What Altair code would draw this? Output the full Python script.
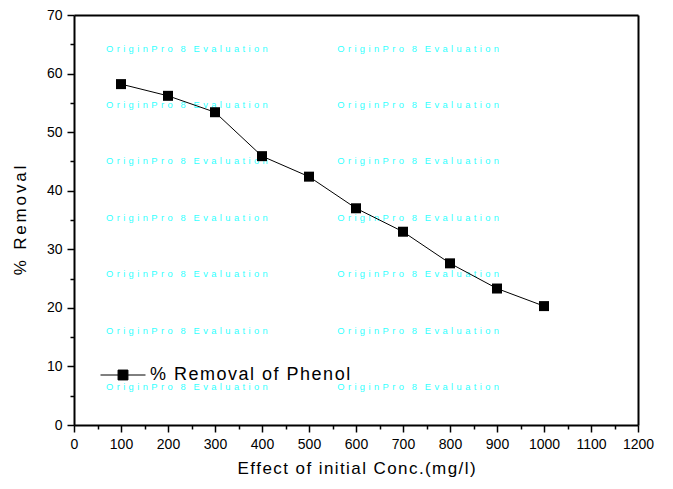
import altair as alt
import pandas as pd

conc = [100, 200, 300, 400, 500, 600, 700, 800, 900, 1000]
removal = [58.2, 56.2, 53.4, 45.9, 42.4, 37.0, 33.0, 27.6, 23.3, 20.3]
series_name = "% Removal of Phenol"

wm_words = ["OriginPro", "8", "Evaluation"]
wm_x = [68, 560]
wm_y = [64.2, 54.6, 45.0, 35.4, 25.7, 16.1, 6.5]

x_title = "Effect of initial Conc.(mg/l)"
y_title = "% Removal"

HS = "\u200a"   # hair space, used to mimic Origin's wide letter spacing
NB = "\u00a0"


def spaced(s, sep=HS):
    return sep.join(list(s))


wm_text = (NB * 3).join((NB + HS).join(list(w)) for w in wm_words)

df = pd.DataFrame({"conc": conc, "removal": removal,
                   "series": [spaced(series_name)] * len(conc)})
wm = pd.DataFrame([{"x": x, "y": y, "t": wm_text} for x in wm_x for y in wm_y])

xscale = alt.Scale(domain=[0, 1200], nice=False, zero=False)
yscale = alt.Scale(domain=[0, 70], nice=False, zero=False)

legend_path = "M-1,0H-0.22M0.22,0H1M-0.22,-0.22H0.22V0.22H-0.22Z"

color = alt.Color(
    "series:N",
    scale=alt.Scale(range=["black"]),
    legend=alt.Legend(
        title=None,
        orient="none",
        legendX=26,
        legendY=337,
        symbolType=legend_path,
        symbolSize=2025,
        symbolFillColor="black",
        symbolStrokeColor="black",
        symbolStrokeWidth=1,
        labelFontSize=18,
        labelFont="Liberation Sans",
        labelColor="black",
        labelOffset=4,
        labelLimit=400,
    ),
)

common = dict(
    titleFont="Liberation Sans",
    titleFontWeight="normal",
    titleColor="black",
    labelFontSize=14,
    labelFont="Liberation Sans",
    labelColor="black",
    tickSize=7,
    tickWidth=1.5,
    tickColor="black",
    domainColor="black",
    domainWidth=2,
    grid=False,
    labelFlush=False,
    format="d",
)
xaxis = alt.Axis(values=list(range(0, 1201, 100)), title=spaced(x_title), titleFontSize=17,
                 orient="bottom", titlePadding=9, labelPadding=5, **common)
yaxis = alt.Axis(values=list(range(0, 71, 10)), title=spaced(y_title, HS + HS), titleFontSize=17,
                 orient="left", titlePadding=17, labelPadding=5, **common)

minor_x = alt.Axis(values=list(range(50, 1200, 100)), labels=False, title=None, orient="bottom",
                   tickSize=4, tickWidth=1.5, tickColor="black", domain=False, grid=False)
minor_y = alt.Axis(values=list(range(5, 70, 10)), labels=False, title=None, orient="left",
                   tickSize=4, tickWidth=1.5, tickColor="black", domain=False, grid=False)
frame_x = alt.Axis(orient="top", labels=False, ticks=False, title=None, grid=False,
                   domainColor="black", domainWidth=2)
frame_y = alt.Axis(orient="right", labels=False, ticks=False, title=None, grid=False,
                   domainColor="black", domainWidth=2)

watermark = alt.Chart(wm).mark_text(
    align="left", baseline="middle", fontSize=9.4, font="Liberation Sans", color="#33FFFF"
).encode(
    x=alt.X("x:Q", scale=xscale, axis=minor_x),
    y=alt.Y("y:Q", scale=yscale, axis=minor_y),
    text="t:N",
)

frame = alt.Chart(df).mark_point(opacity=0).encode(
    x=alt.X("conc:Q", scale=xscale, axis=frame_x),
    y=alt.Y("removal:Q", scale=yscale, axis=frame_y),
)

base = alt.Chart(df)
line = base.mark_line(strokeWidth=1, color="#222222").encode(
    x=alt.X("conc:Q", scale=xscale, axis=xaxis),
    y=alt.Y("removal:Q", scale=yscale, axis=yaxis),
    color=color,
)
points = base.mark_point(shape="square", filled=True, size=100, opacity=1).encode(
    x=alt.X("conc:Q", scale=xscale, axis=xaxis),
    y=alt.Y("removal:Q", scale=yscale, axis=yaxis),
    color=color,
)

chart = (
    alt.layer(watermark, frame, line + points)
    .resolve_axis(x="independent", y="independent")
    .properties(
        width=564,
        height=410,
        autosize=alt.AutoSizeParams(type="none"),
        padding={"left": 66, "top": 7, "right": 27, "bottom": 56},
    )
    .configure_view(stroke=None)
    .configure(background="white")
)

chart.save("out.html", embed_options={"renderer": "svg", "actions": False})
